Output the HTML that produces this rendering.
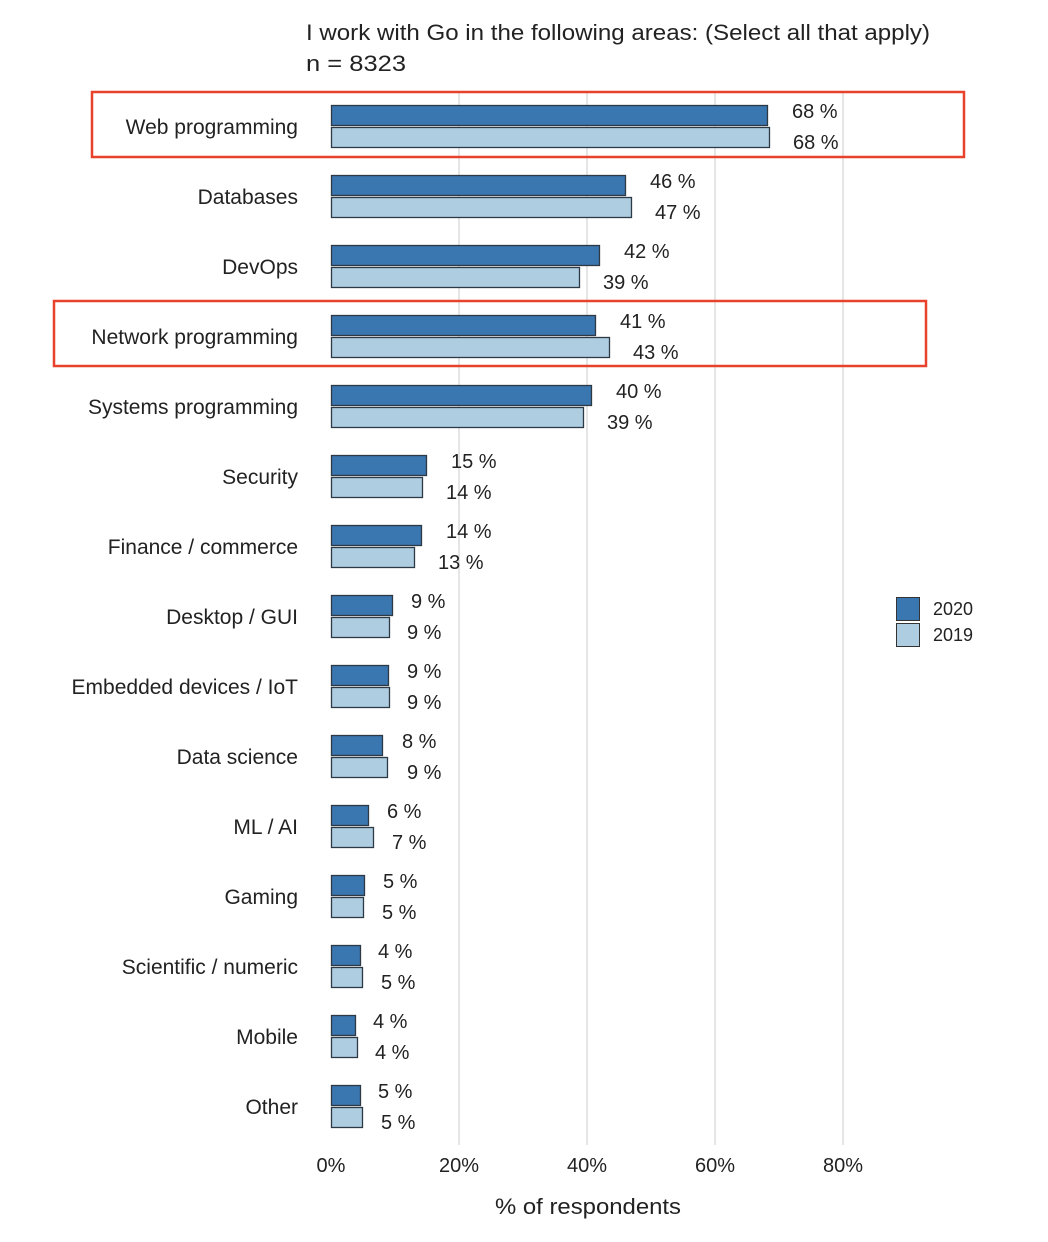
<!DOCTYPE html>
<html><head><meta charset="utf-8"><style>
body{margin:0;background:#fff;}
svg{display:block;font-family:"Liberation Sans",Arial,sans-serif;}
</style></head><body>
<svg width="1048" height="1242" viewBox="0 0 1048 1242" xmlns="http://www.w3.org/2000/svg">
<rect width="1048" height="1242" fill="#fff"/>
<text x="306" y="40" font-size="22" fill="#222" textLength="624" lengthAdjust="spacingAndGlyphs">I work with Go in the following areas: (Select all that apply)</text>
<text x="306" y="71" font-size="22" fill="#222" textLength="100" lengthAdjust="spacingAndGlyphs">n = 8323</text>
<g stroke="#e5e5e5" stroke-width="2">
<line x1="459" y1="92" x2="459" y2="1145"/><line x1="587" y1="92" x2="587" y2="1145"/>
<line x1="715" y1="92" x2="715" y2="1145"/><line x1="843" y1="92" x2="843" y2="1145"/>
</g>
<g stroke="#2d3a45" stroke-width="1.3">
<rect x="331.5" y="105.5" width="436" height="20" fill="#3a76af"/><rect x="331.5" y="127.5" width="438" height="20" fill="#aecde1"/>
<rect x="331.5" y="175.5" width="294" height="20" fill="#3a76af"/><rect x="331.5" y="197.5" width="300" height="20" fill="#aecde1"/>
<rect x="331.5" y="245.5" width="268" height="20" fill="#3a76af"/><rect x="331.5" y="267.5" width="248" height="20" fill="#aecde1"/>
<rect x="331.5" y="315.5" width="264" height="20" fill="#3a76af"/><rect x="331.5" y="337.5" width="278" height="20" fill="#aecde1"/>
<rect x="331.5" y="385.5" width="260" height="20" fill="#3a76af"/><rect x="331.5" y="407.5" width="252" height="20" fill="#aecde1"/>
<rect x="331.5" y="455.5" width="95" height="20" fill="#3a76af"/><rect x="331.5" y="477.5" width="91" height="20" fill="#aecde1"/>
<rect x="331.5" y="525.5" width="90" height="20" fill="#3a76af"/><rect x="331.5" y="547.5" width="83" height="20" fill="#aecde1"/>
<rect x="331.5" y="595.5" width="61" height="20" fill="#3a76af"/><rect x="331.5" y="617.5" width="58" height="20" fill="#aecde1"/>
<rect x="331.5" y="665.5" width="57" height="20" fill="#3a76af"/><rect x="331.5" y="687.5" width="58" height="20" fill="#aecde1"/>
<rect x="331.5" y="735.5" width="51" height="20" fill="#3a76af"/><rect x="331.5" y="757.5" width="56" height="20" fill="#aecde1"/>
<rect x="331.5" y="805.5" width="37" height="20" fill="#3a76af"/><rect x="331.5" y="827.5" width="42" height="20" fill="#aecde1"/>
<rect x="331.5" y="875.5" width="33" height="20" fill="#3a76af"/><rect x="331.5" y="897.5" width="32" height="20" fill="#aecde1"/>
<rect x="331.5" y="945.5" width="29" height="20" fill="#3a76af"/><rect x="331.5" y="967.5" width="31" height="20" fill="#aecde1"/>
<rect x="331.5" y="1015.5" width="24" height="20" fill="#3a76af"/><rect x="331.5" y="1037.5" width="26" height="20" fill="#aecde1"/>
<rect x="331.5" y="1085.5" width="29" height="20" fill="#3a76af"/><rect x="331.5" y="1107.5" width="31" height="20" fill="#aecde1"/>
</g>
<g font-size="21" fill="#222" text-anchor="end">
<text x="298" y="134">Web programming</text>
<text x="298" y="204">Databases</text>
<text x="298" y="274">DevOps</text>
<text x="298" y="344">Network programming</text>
<text x="298" y="414">Systems programming</text>
<text x="298" y="484">Security</text>
<text x="298" y="554">Finance / commerce</text>
<text x="298" y="624">Desktop / GUI</text>
<text x="298" y="694">Embedded devices / IoT</text>
<text x="298" y="764">Data science</text>
<text x="298" y="834">ML / AI</text>
<text x="298" y="904">Gaming</text>
<text x="298" y="974">Scientific / numeric</text>
<text x="298" y="1044">Mobile</text>
<text x="298" y="1114">Other</text>
</g>
<g font-size="20" fill="#222">
<text x="792" y="118">68 %</text><text x="793" y="149">68 %</text>
<text x="650" y="188">46 %</text><text x="655" y="219">47 %</text>
<text x="624" y="258">42 %</text><text x="603" y="289">39 %</text>
<text x="620" y="328">41 %</text><text x="633" y="359">43 %</text>
<text x="616" y="398">40 %</text><text x="607" y="429">39 %</text>
<text x="451" y="468">15 %</text><text x="446" y="499">14 %</text>
<text x="446" y="538">14 %</text><text x="438" y="569">13 %</text>
<text x="411" y="608">9 %</text><text x="407" y="639">9 %</text>
<text x="407" y="678">9 %</text><text x="407" y="709">9 %</text>
<text x="402" y="748">8 %</text><text x="407" y="779">9 %</text>
<text x="387" y="818">6 %</text><text x="392" y="849">7 %</text>
<text x="383" y="888">5 %</text><text x="382" y="919">5 %</text>
<text x="378" y="958">4 %</text><text x="381" y="989">5 %</text>
<text x="373" y="1028">4 %</text><text x="375" y="1059">4 %</text>
<text x="378" y="1098">5 %</text><text x="381" y="1129">5 %</text>
</g>
<g font-size="20" fill="#222" text-anchor="middle">
<text x="331" y="1172">0%</text><text x="459" y="1172">20%</text><text x="587" y="1172">40%</text><text x="715" y="1172">60%</text><text x="843" y="1172">80%</text>
<text x="588" y="1214" font-size="22" textLength="186" lengthAdjust="spacingAndGlyphs">% of respondents</text>
</g>
<rect x="92" y="92" width="872" height="65" fill="none" stroke="#e8412c" stroke-width="2.5"/>
<rect x="54" y="301" width="872" height="65" fill="none" stroke="#e8412c" stroke-width="2.5"/>
<rect x="896.5" y="597.5" width="23" height="23" fill="#3a76af" stroke="#333"/>
<rect x="896.5" y="623.5" width="23" height="23" fill="#aecde1" stroke="#333"/>
<text x="933" y="615" font-size="18" fill="#222">2020</text>
<text x="933" y="641" font-size="18" fill="#222">2019</text>
</svg>
</body></html>
